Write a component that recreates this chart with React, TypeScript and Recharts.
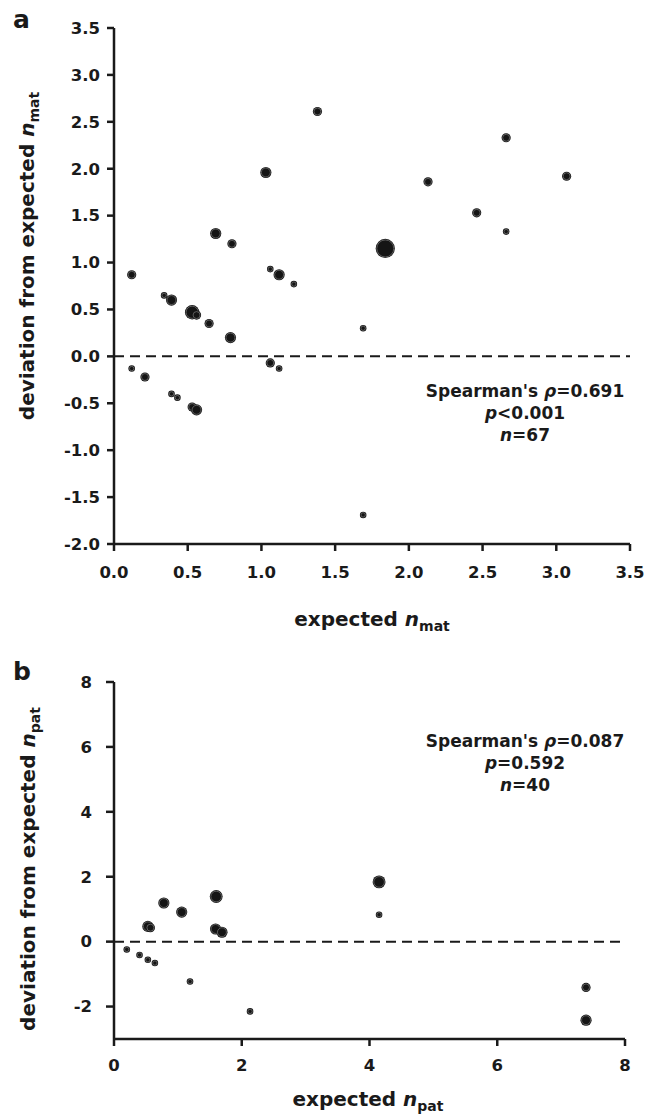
import React from "react";
import { ScatterChart, Scatter, XAxis, YAxis, ZAxis, ReferenceLine } from "recharts";

// Panel a: expected n_mat vs deviation (w = relative marker weight / overlap count)
const matX = [0.12, 0.34, 0.39, 0.53, 0.56, 0.645, 0.69, 0.80, 1.03, 1.06, 1.12, 1.22, 1.38, 2.66, 3.07, 2.13, 2.46, 2.66, 1.84, 1.69, 0.79, 0.12, 0.21, 0.39, 0.43, 0.53, 0.56, 1.06, 1.12, 1.69];
const matY = [0.87, 0.65, 0.60, 0.47, 0.44, 0.35, 1.31, 1.20, 1.96, 0.93, 0.87, 0.77, 2.61, 2.33, 1.92, 1.86, 1.53, 1.33, 1.15, 0.30, 0.20, -0.13, -0.22, -0.40, -0.44, -0.54, -0.57, -0.07, -0.13, -1.69];
const matW = [2, 1, 3, 5, 2, 2, 3, 2, 3, 1, 3, 1, 2, 2, 2, 2, 2, 1, 9, 1, 3, 1, 2, 1, 1, 2, 3, 2, 1, 1];

// Panel b: expected n_pat vs deviation
const patX = [0.20, 0.40, 0.53, 0.64, 0.53, 0.57, 0.78, 1.06, 1.60, 1.59, 1.69, 1.19, 2.13, 4.15, 4.15, 7.39, 7.39];
const patY = [-0.24, -0.41, -0.56, -0.66, 0.47, 0.43, 1.19, 0.91, 1.39, 0.39, 0.29, -1.23, -2.15, 1.84, 0.83, -1.41, -2.42];
const patW = [1, 1, 1, 1, 3, 2, 3, 3, 4, 3, 3, 1, 1, 4, 1, 2, 3];

const matXTicks = [0, 0.5, 1, 1.5, 2, 2.5, 3, 3.5];
const matYTicks = [-2, -1.5, -1, -0.5, 0, 0.5, 1, 1.5, 2, 2.5, 3, 3.5];
const patXTicks = [0, 2, 4, 6, 8];
const patYTicks = [-2, 0, 2, 4, 6, 8];

const matStats = { rho: "0.691", p: "<0.001", n: "67" };
const patStats = { rho: "0.087", p: "=0.592", n: "40" };

const matData = matX.map((x, i) => ({ x, y: matY[i], w: matW[i] }));
const patData = patX.map((x, i) => ({ x, y: patY[i], w: patW[i] }));

const FONT = "'DejaVu Sans', Verdana, sans-serif";
const INK = "#1a1a1a";
const tickStyle = { fill: INK, fontSize: 16.5, fontWeight: 700, fontFamily: FONT };

function Dot(props: any) {
  const { cx, cy, width, size } = props;
  if (cx == null || cy == null) return null;
  const r = width ? width / 2 : Math.sqrt((size || 28) / Math.PI);
  return (
    <g>
      <circle cx={cx} cy={cy} r={r} fill="#151515" />
      <circle cx={cx} cy={cy} r={Math.max(r - 1.1, 0.5)} fill="none" stroke="#8c8c8c" strokeWidth={0.6} />
    </g>
  );
}

function Stats({ cx, y, s }: { cx: number; y: number; s: { rho: string; p: string; n: string } }) {
  return (
    <text x={cx} y={y} textAnchor="middle" fontFamily={FONT} fontWeight={700} fontSize={17} fill={INK}>
      <tspan x={cx} dy={0}>
        Spearman's <tspan fontStyle="italic">ρ</tspan>={s.rho}
      </tspan>
      <tspan x={cx} dy={22}>
        <tspan fontStyle="italic">p</tspan>{s.p}
      </tspan>
      <tspan x={cx} dy={21.5}>
        <tspan fontStyle="italic">n</tspan>={s.n}
      </tspan>
    </text>
  );
}

function YTitle({ x, y, sub }: { x: number; y: number; sub: string }) {
  return (
    <text transform={`translate(${x},${y}) rotate(-90)`} textAnchor="middle" fontFamily={FONT} fontWeight={700} fontSize={20} fill={INK}>
      deviation from expected <tspan fontStyle="italic">n</tspan>
      <tspan fontSize={14} dy={5}>{sub}</tspan>
    </text>
  );
}

function XTitle({ x, y, sub }: { x: number; y: number; sub: string }) {
  return (
    <text x={x} y={y} textAnchor="middle" fontFamily={FONT} fontWeight={700} fontSize={20} fill={INK}>
      expected <tspan fontStyle="italic">n</tspan>
      <tspan fontSize={14} dy={5}>{sub}</tspan>
    </text>
  );
}

export default function App() {
  const axisLine = { stroke: INK, strokeWidth: 2.5 };
  return (
    <div style={{ position: "absolute", left: 0, top: 0, width: 656, height: 1115, background: "#fff" }}>
      <div style={{ position: "absolute", left: 0, top: 0 }}>
        <ScatterChart width={656} height={660} margin={{ top: 28, right: 26, bottom: 56, left: 0 }}>
          <XAxis
            type="number"
            dataKey="x"
            domain={[0, 3.5]}
            ticks={matXTicks}
            tickFormatter={(v: number) => v.toFixed(1)}
            axisLine={axisLine}
            tickLine={axisLine}
            tickSize={7}
            tickMargin={15}
            height={60}
            tick={tickStyle}
            interval={0}
          />
          <YAxis
            type="number"
            dataKey="y"
            domain={[-2, 3.5]}
            ticks={matYTicks}
            tickFormatter={(v: number) => v.toFixed(1)}
            axisLine={axisLine}
            tickLine={axisLine}
            tickSize={7}
            tickMargin={7}
            width={114}
            tick={tickStyle}
            interval={0}
          />
          <ZAxis type="number" dataKey="w" domain={[1, 9]} range={[34, 290]} />
          <ReferenceLine y={0} stroke={INK} strokeWidth={2} strokeDasharray="10 6" />
          <Scatter data={matData} shape={Dot} isAnimationActive={false} />
        </ScatterChart>
      </div>
      <div style={{ position: "absolute", left: 0, top: 640 }}>
        <ScatterChart width={656} height={475} margin={{ top: 42, right: 31, bottom: 16, left: 0 }}>
          <XAxis
            type="number"
            dataKey="x"
            domain={[0, 8]}
            ticks={patXTicks}
            axisLine={axisLine}
            tickLine={axisLine}
            tickSize={7}
            tickMargin={13}
            height={60}
            tick={tickStyle}
            interval={0}
          />
          <YAxis
            type="number"
            dataKey="y"
            domain={[-3, 8]}
            ticks={patYTicks}
            axisLine={axisLine}
            tickLine={axisLine}
            tickSize={8}
            tickMargin={14}
            width={114}
            tick={tickStyle}
            interval={0}
          />
          <ZAxis type="number" dataKey="w" domain={[1, 9]} range={[34, 290]} />
          <ReferenceLine y={0} stroke={INK} strokeWidth={2} strokeDasharray="10 6" />
          <Scatter data={patData} shape={Dot} isAnimationActive={false} />
        </ScatterChart>
      </div>
      <svg width={656} height={1115} style={{ position: "absolute", left: 0, top: 0, pointerEvents: "none" }}>
        <text x={13} y={28} fontFamily={FONT} fontWeight={700} fontSize={25} fill={INK}>a</text>
        <text x={13} y={680} fontFamily={FONT} fontWeight={700} fontSize={25} fill={INK}>b</text>
        <YTitle x={34} y={256} sub="mat" />
        <YTitle x={35} y={869} sub="pat" />
        <XTitle x={372} y={626} sub="mat" />
        <XTitle x={368} y={1106} sub="pat" />
        <Stats cx={525} y={397} s={matStats} />
        <Stats cx={525} y={747} s={patStats} />
      </svg>
    </div>
  );
}
